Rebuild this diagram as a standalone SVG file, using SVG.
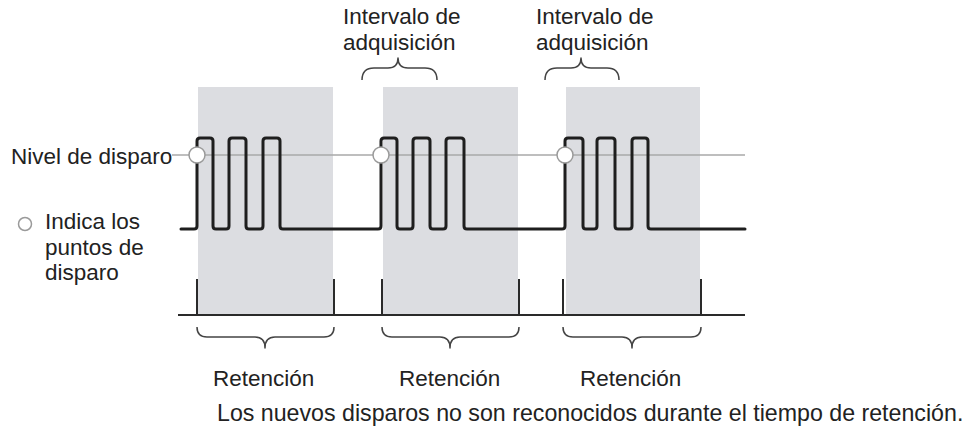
<svg xmlns="http://www.w3.org/2000/svg" width="974" height="434" viewBox="0 0 974 434">
<style>
text{font-family:"Liberation Sans",Arial,sans-serif;font-size:22.5px;fill:#222}
.shade{fill:#dcdde1}
.sig{fill:none;stroke:#1e1e1e;stroke-width:3;stroke-linejoin:round;stroke-linecap:round}
.lvl{fill:none;stroke:#a8a8a8;stroke-width:1.5}
.tp{fill:#fff;stroke:#9a9a9a;stroke-width:1.5}
.axis{fill:none;stroke:#2a2a2a;stroke-width:2}
.brace{fill:none;stroke:#444;stroke-width:1.5;stroke-linejoin:round}
</style>
<rect width="974" height="434" fill="#fff"/>
<g id="holdoff-areas">
<rect class="shade" x="198" y="87" width="135" height="228"/>
<rect class="shade" x="383" y="87" width="135" height="228"/>
<rect class="shade" x="566" y="87" width="134" height="228"/>
</g>
<g id="trigger-level">
<line class="lvl" x1="172" y1="155" x2="745" y2="155"/>
<text x="11" y="164">Nivel de disparo</text>
</g>
<g id="signal">
<path class="sig" d="M181 229 H194 Q197 229 197 226 V141 Q197 138 200 138 H210 Q213 138 213 141 V226 Q213 229 216 229 H226 Q229 229 229 226 V141 Q229 138 232 138 H243 Q246 138 246 141 V226 Q246 229 249 229 H260 Q263 229 263 226 V141 Q263 138 266 138 H277 Q280 138 280 141 V226 Q280 229 283 229 H378 Q381 229 381 226 V141 Q381 138 384 138 H394 Q397 138 397 141 V226 Q397 229 400 229 H410 Q413 229 413 226 V141 Q413 138 416 138 H427 Q430 138 430 141 V226 Q430 229 433 229 H443 Q446 229 446 226 V141 Q446 138 449 138 H461 Q464 138 464 141 V226 Q464 229 467 229 H562 Q565 229 565 226 V141 Q565 138 568 138 H580 Q583 138 583 141 V226 Q583 229 586 229 H594 Q597 229 597 226 V141 Q597 138 600 138 H612 Q615 138 615 141 V226 Q615 229 618 229 H629 Q632 229 632 226 V141 Q632 138 635 138 H645 Q648 138 648 141 V226 Q648 229 651 229 H745"/>
</g>
<g id="trigger-points">
<circle class="tp" cx="197" cy="155" r="8"/>
<circle class="tp" cx="381" cy="155" r="8"/>
<circle class="tp" cx="565" cy="155" r="8"/>
</g>
<g id="legend">
<circle class="tp" cx="25" cy="224" r="6.5"/>
<text x="45" y="229">Indica los<tspan x="45" dy="25.5">puntos de</tspan><tspan x="45" dy="25.5">disparo</tspan></text>
</g>
<g id="acquisition-1">
<text x="343" y="24">Intervalo de<tspan x="343" dy="25.5">adquisición</tspan></text>
<path class="brace" d="M362 80 Q362 68 374 68 H388 Q398 68 398 58 Q398 68 408 68 H425 Q437 68 437 80"/>
</g>
<g id="acquisition-2">
<text x="536" y="24">Intervalo de<tspan x="536" dy="25.5">adquisición</tspan></text>
<path class="brace" d="M545 80 Q545 68 557 68 H571 Q581 68 581 58 Q581 68 591 68 H607 Q619 68 619 80"/>
</g>
<g id="timeline">
<line class="axis" x1="178" y1="315" x2="745" y2="315"/>
<path class="axis" d="M197 279 V315 M334 279 V315 M382 279 V315 M519 279 V315 M563 279 V315 M701 279 V315"/>
</g>
<g id="holdoff-1">
<path class="brace" d="M197 327 Q197 337 207 337 H255 Q265 337 265 348 Q265 337 275 337 H324 Q334 337 334 327"/>
<text x="213" y="386">Retención</text>
</g>
<g id="holdoff-2">
<path class="brace" d="M382 327 Q382 337 392 337 H440 Q450 337 450 348 Q450 337 460 337 H509 Q519 337 519 327"/>
<text x="399" y="386">Retención</text>
</g>
<g id="holdoff-3">
<path class="brace" d="M563 327 Q563 337 573 337 H622 Q632 337 632 348 Q632 337 642 337 H691 Q701 337 701 327"/>
<text x="580" y="386">Retención</text>
</g>
<g id="note">
<text x="217" y="421" style="font-size:23.2px">Los nuevos disparos no son reconocidos durante el tiempo de retención.</text>
</g>
</svg>
